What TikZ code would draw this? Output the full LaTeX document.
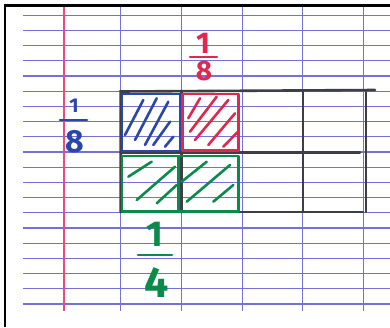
\documentclass[tikz,border=0pt]{standalone}
\usepackage{fontspec}
\setmainfont{Fira Sans}
\definecolor{ruled}{HTML}{7470D4}
\definecolor{marginpink}{HTML}{EC4A7E}
\definecolor{pencil}{HTML}{3E3E46}
\definecolor{penblue}{HTML}{2A46A8}
\definecolor{penred}{HTML}{E0284F}
\definecolor{pengreen}{HTML}{0B8A4C}
\tikzset{
  hline/.style={draw=ruled, line width=1.2pt},
  vline/.style={draw=ruled, line width=0.9pt},
  marginline/.style={draw=marginpink, line width=2pt},
  pencilline/.style={draw=pencil, line width=2.6pt, line cap=round},
  outline/.style={line width=2.6pt, line join=round},
  hatch/.style={line width=2.6pt, line cap=round},
  digit/.style={inner sep=0pt, font=\bfseries},
  fracbar/.style={line width=2.8pt, line cap=round}
}
\begin{document}
\begin{tikzpicture}[x=1pt,y=-1pt]
\useasboundingbox (0,0) rectangle (390,327);
\fill[white] (0,0) rectangle (390,327);
% ruled paper
\foreach \k in {0,...,19}{
  \draw[hline] (23,{15.2+15.2*\k}) -- (390,{15.2+15.2*\k});
}
\foreach \j in {0,...,4}{
  \draw[vline] ({120.7+60.67*\j},5.5) -- ({120.7+60.67*\j},311);
}
\draw[marginline] (63.5,5.5) -- (63.5,311);
% frame
\draw[black, line width=2.2pt] (5,327) -- (5,5.5) -- (390,5.5);
% pencil grid
\coordinate (tl) at (120.7,91.5);
\coordinate (tr) at (375,90);
\coordinate (br) at (366,212);
\coordinate (bl) at (120.7,212);
\draw[pencilline] (bl) -- (tl) -- (tr);
\draw[pencilline] (bl) -- (363,212);
\draw[pencilline] (366,92) -- (br);
\draw[pencilline] (120.7,152.5) -- (360,152.5);
\draw[pencilline] (303,91) -- (303,212);
\draw[pencilline] (181.4,91) -- (181.4,212);
% blue cell
\draw[penblue, outline] (122,94) rectangle (180,151);
\foreach \a/\b/\c/\d in {125/135/143.3/100, 135/140/156.7/98.3, 145/145/168.3/101.7, 153.3/145/170/121.7, 165/146.7/173.3/136.7}{
  \draw[penblue, hatch] (\a,\b) -- (\c,\d);
}
% red cell
\draw[penred, outline] (182.5,94) rectangle (238.5,150.5);
\foreach \a/\b/\c/\d in {188.3/118.3/200/98.3, 190/131.7/216.7/96.7, 195/140/228.3/100, 208.3/145/235/113.3, 223.3/146.7/238/131.7}{
  \draw[penred, hatch] (\a,\b) -- (\c,\d);
}
% green cells
\draw[pengreen, outline] (122,156) rectangle (238.5,211.5);
\draw[pengreen, outline] (178.5,156) -- (178.5,211.5);
\foreach \a/\b/\c/\d in {128.3/176.7/151.7/161.7, 136.7/200/175/166.7, 156.7/203.3/176.7/185, 181.7/181.7/206.7/161.7, 186.7/201.7/230/165, 213.3/201.7/233.3/185}{
  \draw[pengreen, hatch] (\a,\b) -- (\c,\d);
}
% labels
\node[digit, text=penblue, font=\bfseries\fontsize{20}{20}\selectfont] (bn) at (74,106) {1};
\coordinate (bb1) at (60,120);
\coordinate (bb2) at (87,120);
\draw[penblue, fracbar] (bb1) -- (bb2);
\node[digit, text=penblue, font=\bfseries\fontsize{32}{32}\selectfont] (bd) at (75,141.5) {8};

\node[digit, text=penred, font=\bfseries\fontsize{30}{30}\selectfont] (rn) at (203,43) {1};
\coordinate (rb1) at (190,57);
\coordinate (rb2) at (217,57);
\draw[penred, fracbar] (rb1) -- (rb2);
\node[digit, text=penred, font=\bfseries\fontsize{28}{28}\selectfont] (rd) at (204,71) {8};

\node[digit, text=pengreen, font=\bfseries\fontsize{36}{36}\selectfont] (gn) at (155,234.5) {1};
\coordinate (gb1) at (138,255);
\coordinate (gb2) at (172,255);
\draw[pengreen, fracbar] (gb1) -- (gb2);
\node[digit, text=pengreen, font=\bfseries\fontsize{43}{43}\selectfont] (gd) at (157,283) {4};
\end{tikzpicture}
\end{document}
